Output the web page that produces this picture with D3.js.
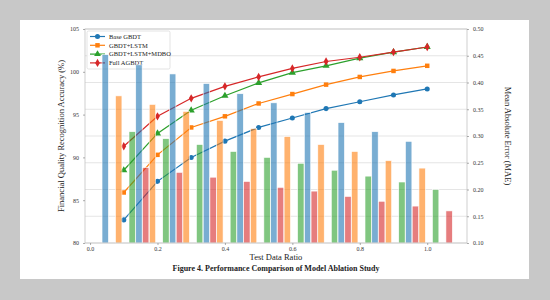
<!DOCTYPE html>
<html lang="en">
<head>
    <meta charset="UTF-8">
    <title>Performance Comparison of Model Ablation Study</title>
    <script src="https://d3js.org/d3.v7.min.js"></script>
    <style>
        body { margin: 0; background: #c8c8c8; }
        svg { display: block; }
    </style>
</head>
<body>
    <svg id="chart" width="550" height="300"></svg>

    <script>
        // Datos
        const ratios = [0.1, 0.2, 0.3, 0.4, 0.5, 0.6, 0.7, 0.8, 0.9, 1.0];
        const seriesNames = ["Base GBDT", "GBDT+LSTM", "GBDT+LSTM+MDBO", "Full AGBDT"];
        const accBase = [82.7, 87.2, 90.0, 91.9, 93.5, 94.6, 95.7, 96.5, 97.3, 98.0];
        const accLstm = [85.9, 90.3, 93.5, 94.8, 96.3, 97.4, 98.5, 99.4, 100.1, 100.7];
        const accMdbo = [88.5, 92.8, 95.5, 97.2, 98.7, 99.9, 100.7, 101.6, 102.3, 102.9];
        const accFull = [91.3, 94.8, 96.9, 98.3, 99.4, 100.4, 101.2, 101.7, 102.3, 102.9];
        const maeBase = [0.452, 0.433, 0.416, 0.398, 0.379, 0.362, 0.344, 0.325, 0.308, 0.290];
        const maeLstm = [0.375, 0.359, 0.346, 0.329, 0.314, 0.299, 0.284, 0.271, 0.254, 0.240];
        const maeMdbo = [0.308, 0.295, 0.284, 0.271, 0.260, 0.249, 0.236, 0.225, 0.214, 0.200];
        const maeFull = [0.241, 0.232, 0.223, 0.215, 0.204, 0.197, 0.187, 0.178, 0.169, 0.160];
        const xTicks = [0.0, 0.2, 0.4, 0.6, 0.8, 1.0];
        const accTicks = [80, 85, 90, 95, 100, 105];
        const maeTicks = [0.10, 0.15, 0.20, 0.25, 0.30, 0.35, 0.40, 0.45, 0.50];

        const accSeries = [accBase, accLstm, accMdbo, accFull];
        const maeSeries = [maeBase, maeLstm, maeMdbo, maeFull];
        const colors = ["#1f77b4", "#ff7f0e", "#2ca02c", "#d62728"];
        const symbols = [d3.symbolCircle, d3.symbolSquare, d3.symbolTriangle, d3.symbolDiamond];
        const barOffsets = [-0.055, -0.015, 0.025, 0.065];
        const barWidth = 0.019;

        const svg = d3.select("#chart");
        const font = "'Liberation Serif', 'DejaVu Serif', serif";

        // Tarjeta blanca
        svg.append("rect")
           .attr("x", 20).attr("y", 20)
           .attr("width", 509).attr("height", 259)
           .attr("fill", "white");

        const margin = {top: 29, right: 83, bottom: 57, left: 85};
        const width = 550 - margin.left - margin.right;
        const height = 300 - margin.top - margin.bottom;

        const g = svg.append("g")
                     .attr("transform", `translate(${margin.left},${margin.top})`);

        // Escalas
        const x = d3.scaleLinear().domain([-0.015, 1.118]).range([0, width]);
        const yAcc = d3.scaleLinear().domain([80, 105]).range([height, 0]);
        const yMae = d3.scaleLinear().domain([0.10, 0.50]).range([height, 0]);

        // Rejilla
        g.append("g")
         .selectAll("line")
         .data(maeTicks)
         .join("line")
         .attr("x1", 0).attr("x2", width)
         .attr("y1", d => yMae(d)).attr("y2", d => yMae(d))
         .attr("stroke", "#dedede")
         .attr("stroke-width", 0.8);

        // Líneas (eje izquierdo)
        const line = d3.line()
                       .x((d, i) => x(ratios[i]))
                       .y(d => yAcc(d));

        accSeries.forEach((s, k) => {
            g.append("path")
             .datum(s)
             .attr("fill", "none")
             .attr("stroke", colors[k])
             .attr("stroke-width", 1.2)
             .attr("d", line);
            g.append("g")
             .selectAll("path")
             .data(s)
             .join("path")
             .attr("transform", (d, i) => `translate(${x(ratios[i])},${yAcc(d)})`)
             .attr("d", d3.symbol().type(symbols[k]).size(k === 2 ? 22 : 20))
             .attr("fill", colors[k]);
        });

        // Leyenda (debajo de las barras, como en el eje gemelo)
        const legend = g.append("g").attr("transform", "translate(2,2)");
        legend.append("rect")
              .attr("width", 83).attr("height", 38)
              .attr("fill", "white").attr("fill-opacity", 0.85)
              .attr("stroke", "#d0d0d0").attr("stroke-width", 0.6)
              .attr("rx", 1.5);
        seriesNames.forEach((name, k) => {
            const row = legend.append("g").attr("transform", `translate(3,${5.5 + k * 8.8})`);
            row.append("line")
               .attr("x1", 0).attr("x2", 15)
               .attr("stroke", colors[k]).attr("stroke-width", 1.2);
            row.append("path")
               .attr("transform", "translate(7.5,0)")
               .attr("d", d3.symbol().type(symbols[k]).size(20))
               .attr("fill", colors[k]);
            row.append("text")
               .attr("x", 19).attr("y", 2.2)
               .style("font-family", font)
               .style("font-size", "6.5px")
               .attr("fill", "#222")
               .text(name);
        });

        // Barras (eje derecho)
        const bw = x(barWidth) - x(0);
        maeSeries.forEach((s, k) => {
            g.append("g")
             .selectAll("rect")
             .data(s)
             .join("rect")
             .attr("x", (d, i) => x(ratios[i] + barOffsets[k]) - bw / 2)
             .attr("width", bw)
             .attr("y", d => yMae(d))
             .attr("height", d => height - yMae(d))
             .attr("fill", colors[k])
             .attr("fill-opacity", 0.6)
             .attr("stroke", "white")
             .attr("stroke-width", 0.6);
        });

        // Marco
        g.append("rect")
         .attr("width", width).attr("height", height)
         .attr("fill", "none")
         .attr("stroke", "#c4c4c4")
         .attr("stroke-width", 0.8);

        // Ejes
        const styleAxis = sel => {
            sel.select(".domain").remove();
            sel.selectAll(".tick line").attr("stroke", "#777").attr("stroke-width", 0.6);
            sel.selectAll(".tick text")
               .attr("fill", "#333")
               .style("font-family", font)
               .style("font-size", "6px");
        };

        g.append("g")
         .attr("transform", `translate(0,${height})`)
         .call(d3.axisBottom(x).tickValues(xTicks).tickFormat(d3.format(".1f")).tickSize(2).tickPadding(2))
         .call(styleAxis);
        g.append("g")
         .call(d3.axisLeft(yAcc).tickValues(accTicks).tickFormat(d3.format("d")).tickSize(2).tickPadding(4))
         .call(styleAxis);
        g.append("g")
         .attr("transform", `translate(${width},0)`)
         .call(d3.axisRight(yMae).tickValues(maeTicks).tickFormat(d3.format(".2f")).tickSize(2).tickPadding(4))
         .call(styleAxis);

        // Etiquetas
        g.append("text")
         .attr("transform", `translate(-21,${height / 2}) rotate(-90)`)
         .attr("text-anchor", "middle")
         .style("font-family", font)
         .style("font-size", "8.5px")
         .attr("fill", "#222")
         .text("Financial Quality Recognition Accuracy (%)");
        g.append("text")
         .attr("transform", `translate(${width + 38},${height / 2}) rotate(90)`)
         .attr("text-anchor", "middle")
         .style("font-family", font)
         .style("font-size", "8.5px")
         .attr("fill", "#222")
         .text("Mean Absolute Error (MAE)");
        g.append("text")
         .attr("x", width / 2).attr("y", height + 17)
         .attr("text-anchor", "middle")
         .style("font-family", font)
         .style("font-size", "8.5px")
         .attr("fill", "#222")
         .text("Test Data Ratio");
        svg.append("text")
           .attr("x", 276).attr("y", 271)
           .attr("text-anchor", "middle")
           .style("font-family", font)
           .style("font-size", "8px")
           .style("font-weight", "bold")
           .attr("fill", "#222")
           .text("Figure 4. Performance Comparison of Model Ablation Study");
    </script>
</body>
</html>
